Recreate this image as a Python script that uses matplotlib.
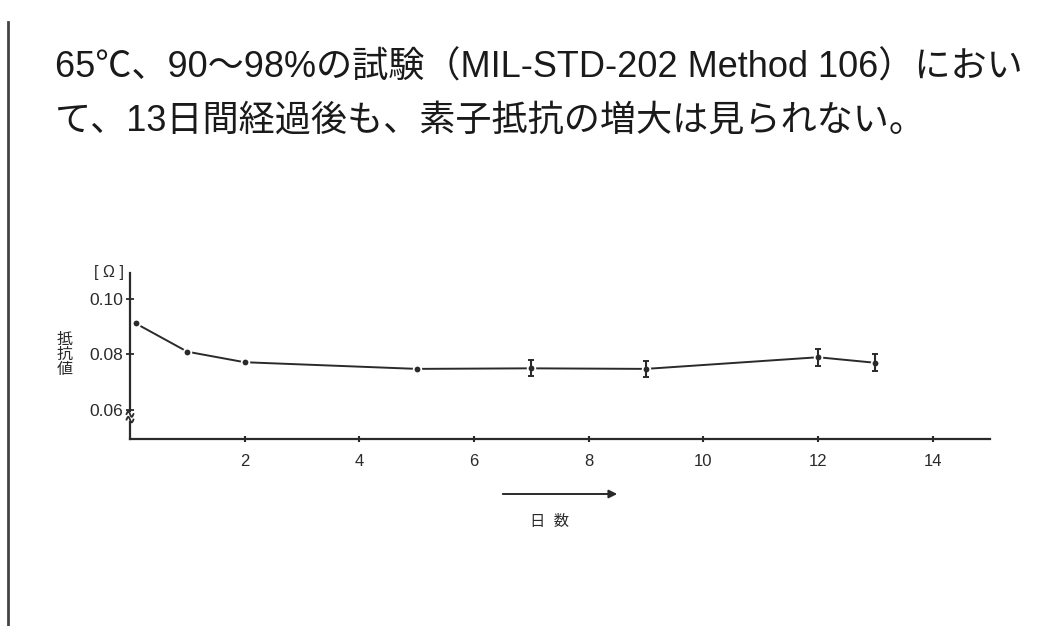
import numpy as np
import matplotlib
matplotlib.use("Agg")
import matplotlib.pyplot as plt

plt.rcParams['font.family'] = ['Liberation Sans', 'Noto Sans CJK JP', 'DejaVu Sans']

# data
days = [0.1, 1, 2, 5, 7, 9, 12, 13]
resist = [0.0912, 0.0810, 0.0772, 0.0748, 0.0750, 0.0748, 0.0790, 0.0770]
err = [0, 0, 0, 0, 0.0029, 0.0029, 0.0030, 0.0030]
xticks = [2, 4, 6, 8, 10, 12, 14]
yticks = [0.06, 0.08, 0.10]
ytick_labels = ["0.06", "0.08", "0.10"]

title1 = "65℃、90～98%の試験（MIL-STD-202 Method 106）におい"
title2 = "て、13日間経過後も、素子抵抗の増大は見られない。"

ink = "#2a2a2a"

fig = plt.figure(figsize=(10.6, 6.26), dpi=100)
ax = fig.add_axes([130 / 1060, 187 / 626, 860 / 1060, 166 / 626])

ax.plot(days, resist, color=ink, lw=1.4, zorder=2)
ax.plot(days, resist, 'o', color=ink, ms=5.5, mec="white", mew=1.3, zorder=3)
eb_x = [d for d, e in zip(days, err) if e > 0]
eb_y = [r for r, e in zip(resist, err) if e > 0]
eb_e = [e for e in err if e > 0]
ax.errorbar(eb_x, eb_y, yerr=eb_e, fmt='none', ecolor=ink, elinewidth=1.5,
            capsize=2.5, capthick=1.4, zorder=4)

ax.set_xlim(0, 15)
ax.set_ylim(0.0495, 0.1094)
ax.set_xticks(xticks)
ax.set_xticklabels([str(t) for t in xticks], fontsize=12, color=ink)
ax.set_yticks(yticks)
ax.set_yticklabels(ytick_labels, fontsize=12.5, color=ink)
ax.tick_params(axis='x', direction='inout', length=4, width=1.5, color=ink, pad=9)
ax.tick_params(axis='y', direction='inout', length=6, width=1.3, color=ink, pad=2)

for s in ['top', 'right']:
    ax.spines[s].set_visible(False)
ax.spines['bottom'].set_color(ink)
ax.spines['bottom'].set_linewidth(1.6)
ax.spines['left'].set_visible(False)

# left axis with a break squiggle between 0.06 and the x axis
tr = ax.get_yaxis_transform()
ax.plot([0, 0], [0.0595, 0.1094], color=ink, lw=1.6, transform=tr, clip_on=False)
ax.plot([0, 0], [0.0495, 0.0555], color=ink, lw=1.6, transform=tr, clip_on=False)
for yb in [0.0585, 0.0565]:
    t = np.linspace(0, 1, 30)
    ax.plot(-0.004 + 0.008 * t, yb + 0.0010 * np.sin(2 * np.pi * t), color=ink,
            lw=1.3, transform=tr, clip_on=False)

ax.text(-0.007, 0.1094, "[ Ω ]", transform=tr, ha='right', va='center',
        fontsize=11.5, color=ink)
ax.text(-0.076, 0.080, "抵\n抗\n値", transform=tr, ha='center', va='center',
        fontsize=11.5, color=ink, linespacing=1.0)

# day arrow and label below the axis
fig.patches.append(matplotlib.patches.FancyArrowPatch(
    (500 / 1060, 1 - 494 / 626), (620 / 1060, 1 - 494 / 626),
    transform=fig.transFigure, arrowstyle='-|>', mutation_scale=12,
    color=ink, lw=1.4))
fig.text(549 / 1060, 1 - 522 / 626, "日  数", ha='center', va='center',
         fontsize=11, color=ink)

fig.text(55 / 1060, 1 - 68 / 626, title1, ha='left', va='center',
         fontsize=26, color="#1a1a1a")
fig.text(55 / 1060, 1 - 121 / 626, title2, ha='left', va='center',
         fontsize=26, color="#1a1a1a")

# page margin line on the left
fig.add_artist(matplotlib.lines.Line2D([8 / 1060, 8 / 1060], [0, 1 - 22 / 626],
                                       color="#444444", lw=2))

fig.savefig("out.png", dpi=100, facecolor="white")
